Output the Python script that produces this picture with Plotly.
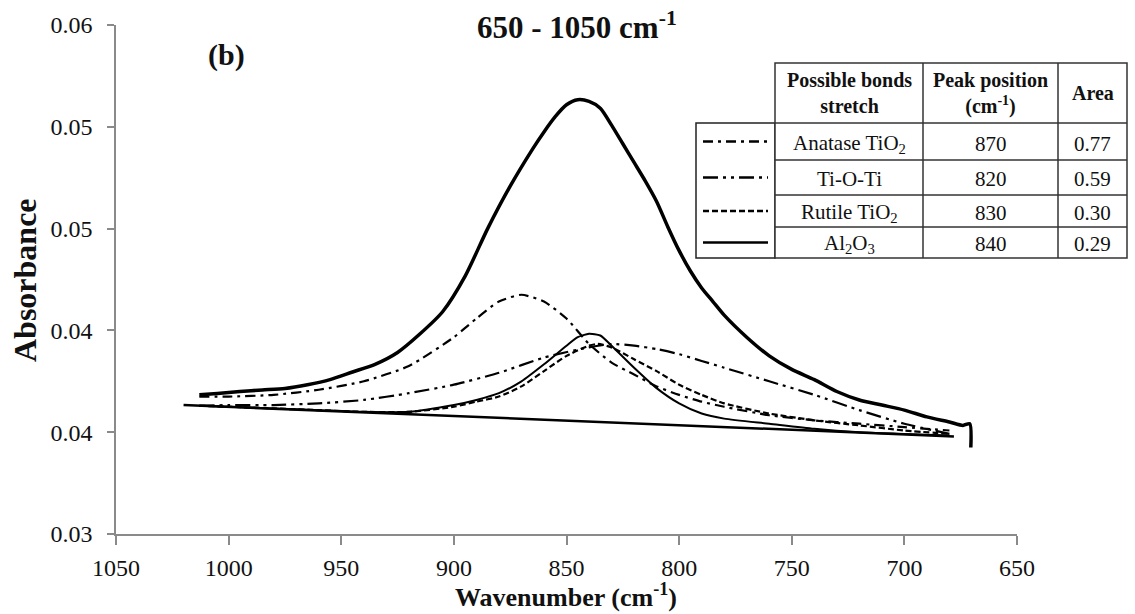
import plotly.graph_objects as go

# ---------------- data ----------------
main_wn = [1013, 1005, 995, 985, 975, 965, 955, 945, 935, 925, 915, 905, 895, 885, 875, 865,
           860, 855, 850, 845, 840, 835, 830, 825, 820, 815, 810, 805, 800, 795, 790, 785, 780,
           770, 760, 750, 740, 730, 720, 710, 700, 690, 680, 674, 671, 670.5]
main_abs = [0.0382, 0.03828, 0.0384, 0.03849, 0.03858, 0.0388, 0.0391, 0.03955, 0.0400, 0.0407,
            0.0418, 0.0431, 0.0452, 0.0480, 0.0505, 0.0527, 0.0537, 0.0546, 0.0553, 0.0556,
            0.0555, 0.0551, 0.0541, 0.0530, 0.0519, 0.0508, 0.0496, 0.0481, 0.0467, 0.0455,
            0.0445, 0.0437, 0.0429, 0.0416, 0.0405, 0.0397, 0.0391, 0.0384, 0.0379, 0.0376,
            0.0373, 0.0369, 0.0366, 0.0364, 0.0365, 0.0351]

anatase_wn = [1013, 1000, 980, 960, 940, 920, 900, 890, 880, 870, 860, 850, 840, 830, 820,
              810, 800, 790, 780, 760, 740, 720, 700, 680]
anatase_abs = [0.0381, 0.0381, 0.0382, 0.0385, 0.0390, 0.0399, 0.0416, 0.0427, 0.0437, 0.0441,
               0.0437, 0.0427, 0.0412, 0.0401, 0.0394, 0.0387, 0.0382, 0.0378, 0.0375, 0.0370,
               0.0367, 0.0365, 0.0363, 0.0361]

tioti_wn = [1013, 1000, 980, 960, 940, 920, 900, 880, 860, 840, 830, 820, 810, 800, 790,
            780, 760, 740, 720, 700, 680]
tioti_abs = [0.03755, 0.0376, 0.0376, 0.0377, 0.0379, 0.0383, 0.0388, 0.0395, 0.0404, 0.0410,
             0.0412, 0.0411, 0.0409, 0.0406, 0.0402, 0.0398, 0.0390, 0.0382, 0.0373, 0.0365,
             0.0359]

rutile_wn = [1013, 1000, 980, 960, 940, 920, 900, 890, 880, 870, 860, 850, 840, 836, 830,
             820, 810, 800, 790, 780, 760, 740, 720, 700, 680]
rutile_abs = [0.03756, 0.0375, 0.0374, 0.0373, 0.0372, 0.0372, 0.0375, 0.0378, 0.0381, 0.0387,
              0.0396, 0.0405, 0.0411, 0.0412, 0.0410, 0.0403, 0.0396, 0.0388, 0.0382, 0.0377,
              0.0371, 0.0367, 0.0364, 0.0361, 0.0359]

al2o3_wn = [1013, 1000, 980, 960, 940, 920, 900, 890, 880, 870, 860, 850, 845, 840, 835,
            830, 820, 810, 800, 790, 780, 760, 740, 720, 700, 680]
al2o3_abs = [0.03756, 0.0375, 0.0374, 0.0373, 0.0372, 0.0372, 0.0376, 0.0379, 0.0383, 0.0390,
             0.0400, 0.0411, 0.0416, 0.0418, 0.0417, 0.0411, 0.0398, 0.0386, 0.0377, 0.0371,
             0.0368, 0.0365, 0.0362, 0.0360, 0.0359, 0.0358]

baseline_wn = [1020, 678]
baseline_abs = [0.0376, 0.03575]

x_ticks = [1050, 1000, 950, 900, 850, 800, 750, 700, 650]
y_tickvals = [0.03, 0.036, 0.042, 0.048, 0.054, 0.06]
y_ticktext = ["0.03", "0.04", "0.04", "0.05", "0.05", "0.06"]

bond_labels = ["Anatase TiO<sub>2</sub>", "Ti-O-Ti", "Rutile TiO<sub>2</sub>", "Al<sub>2</sub>O<sub>3</sub>"]
peak_positions = ["870", "820", "830", "840"]
areas = ["0.77", "0.59", "0.30", "0.29"]
header = ["<b>Possible bonds<br>stretch</b>", "<b>Peak position<br>(cm<sup>-1</sup>)</b>", "<b>Area</b>"]

# ---------------- styles ----------------
W, H = 1135, 614
L, R, T, B = 116, 1017, 25, 534
SERIF = "Liberation Serif"
DASH_ANA = "10px,5px,3px,5px"
DASH_TI = "15px,5px,3px,5px,3px,5px"
DASH_RU = "6px,3px"


def PX(x):
    return (x - L) / (R - L)


def PY(y):
    return (B - y) / (B - T)


fig = go.Figure()
line_common = dict(color="black", shape="spline", smoothing=0.6)
fig.add_trace(go.Scatter(x=baseline_wn, y=baseline_abs, mode="lines",
                         line=dict(color="black", width=2.5)))
fig.add_trace(go.Scatter(x=al2o3_wn, y=al2o3_abs, mode="lines",
                         line=dict(width=2, **line_common)))
fig.add_trace(go.Scatter(x=rutile_wn, y=rutile_abs, mode="lines",
                         line=dict(width=2.2, dash=DASH_RU, **line_common)))
fig.add_trace(go.Scatter(x=tioti_wn, y=tioti_abs, mode="lines",
                         line=dict(width=2.2, dash=DASH_TI, **line_common)))
fig.add_trace(go.Scatter(x=anatase_wn, y=anatase_abs, mode="lines",
                         line=dict(width=2.2, dash=DASH_ANA, **line_common)))
fig.add_trace(go.Scatter(x=main_wn, y=main_abs, mode="lines",
                         line=dict(width=3.5, color="black", shape="spline", smoothing=0.7)))

axis_common = dict(showline=True, linecolor="#8a8a8a", linewidth=1.5, ticks="outside",
                   tickcolor="#8a8a8a", tickwidth=1.5, showgrid=False, zeroline=False,
                   automargin=False,
                   tickfont=dict(family=SERIF, size=24, color="#111111"))

fig.update_layout(
    width=W, height=H, showlegend=False,
    paper_bgcolor="white", plot_bgcolor="white",
    margin=dict(l=L, r=W - R, t=T, b=H - B, pad=0, autoexpand=False),
    xaxis=dict(range=[1050, 650], tickvals=x_ticks, ticklen=9, ticklabelstandoff=2, **axis_common),
    yaxis=dict(range=[0.03, 0.06], tickvals=y_tickvals, ticktext=y_ticktext, ticklen=7,
               ticklabelstandoff=10, **axis_common),
)


def note(px, py, text, size, angle=0):
    return dict(x=PX(px), y=PY(py), xref="paper", yref="paper", showarrow=False,
                xanchor="center", yanchor="middle", textangle=angle, text=text,
                font=dict(family=SERIF, size=size, color="#111"))


ann = []
ann.append(note(577, 25, "<b>650 - 1050 cm<sup>-1</sup></b>", 31))
ann.append(note(226, 55, "<b>(b)</b>", 30))
ann.append(note(25, 280, "<b>Absorbance</b>", 32, angle=-90))
ann.append(note(566, 595, "<b>Wavenumber (cm<sup>-1</sup>)</b>", 26))

# table geometry (pixels)
tx0, tx1, tx2, tx3 = 775, 923, 1058, 1127
rows_y = [63, 123, 160, 195, 227, 258]
col_centers = [(tx0 + tx1) / 2, (tx1 + tx2) / 2, (tx2 + tx3) / 2]

shapes = []
# legend box
shapes.append(dict(type="rect", xref="paper", yref="paper", x0=PX(696), x1=PX(775),
                   y0=PY(258), y1=PY(123), line=dict(color="#222", width=1.5), fillcolor="white",
                   layer="above"))
# table box
shapes.append(dict(type="rect", xref="paper", yref="paper", x0=PX(tx0), x1=PX(tx3),
                   y0=PY(rows_y[-1]), y1=PY(rows_y[0]), line=dict(color="#333", width=1.5),
                   fillcolor="white", layer="above"))
for yy in rows_y[1:-1]:
    shapes.append(dict(type="line", xref="paper", yref="paper", x0=PX(tx0), x1=PX(tx3),
                       y0=PY(yy), y1=PY(yy), line=dict(color="#333", width=1.5), layer="above"))
for xx in [tx1, tx2]:
    shapes.append(dict(type="line", xref="paper", yref="paper", x0=PX(xx), x1=PX(xx),
                       y0=PY(rows_y[-1]), y1=PY(rows_y[0]), line=dict(color="#333", width=1.5),
                       layer="above"))

# legend samples
legend_dashes = [DASH_ANA, DASH_TI, DASH_RU, "solid"]
for i, d in enumerate(legend_dashes):
    yc = (rows_y[i + 1] + rows_y[i + 2]) / 2
    shapes.append(dict(type="line", xref="paper", yref="paper", x0=PX(703), x1=PX(768),
                       y0=PY(yc), y1=PY(yc), line=dict(color="black", width=2.5, dash=d),
                       layer="above"))

# table text
for j, h in enumerate(header):
    ann.append(note(col_centers[j], (rows_y[0] + rows_y[1]) / 2, h, 20))
for i in range(4):
    yc = (rows_y[i + 1] + rows_y[i + 2]) / 2 + 2
    for j, txt in enumerate([bond_labels[i], peak_positions[i], areas[i]]):
        ann.append(note(col_centers[j], yc, txt, 21))

fig.update_layout(annotations=ann, shapes=shapes)
fig.write_html("out.html", config={"displayModeBar": False},
               post_script="document.body.style.margin='0px';")
